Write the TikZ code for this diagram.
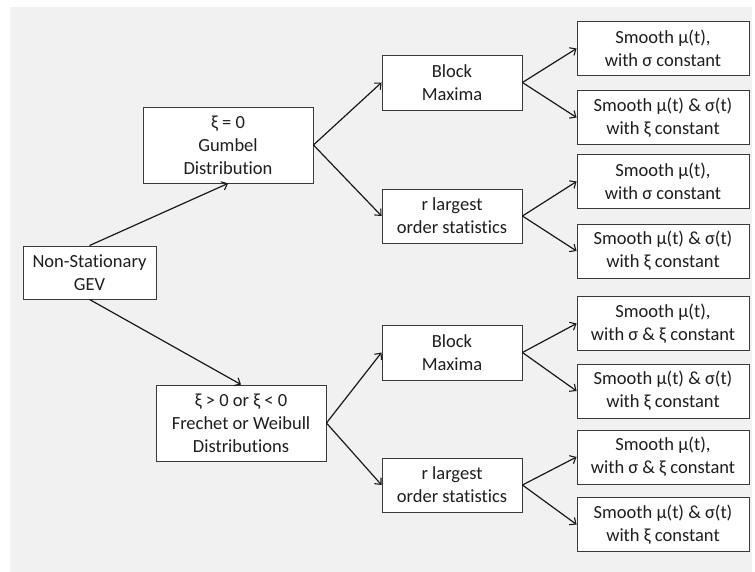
\documentclass[tikz,border=0pt]{standalone}
\usepackage{fontspec}
\setmainfont{Carlito}[Ligatures={NoCommon}]
\usetikzlibrary{arrows.meta}
\definecolor{bgray}{HTML}{F1F1F1}
\definecolor{bordc}{HTML}{3A3A3A}
\definecolor{txtc}{HTML}{1E1E1E}
\tikzset{
  box/.style={draw=bordc, line width=0.9pt, fill=white, align=center, inner sep=0pt,
    font=\fontsize{18.5}{23}\selectfont, text=txtc},
  conn/.style={line width=1.2pt, draw=black!90, -{Straight Barb[length=5pt,width=9pt,line width=1.1pt]}}
}
\begin{document}
\begin{tikzpicture}[x=1pt,y=-1pt]
\useasboundingbox (0,0) rectangle (755,572);
\fill[bgray] (10,7) rectangle (752,572);
% left
\node[box, minimum width=133pt, minimum height=53pt] (gev) at (89.5,272.5) {Non-Stationary\\GEV};
\node[box, minimum width=170pt, minimum height=76pt] (gum) at (228,145) {ξ = 0\\Gumbel\\Distribution};
\node[box, minimum width=170pt, minimum height=76pt] (fre) at (241,423) {ξ > 0 or ξ < 0\\Frechet or Weibull\\Distributions};
% middle
\node[box, minimum width=140pt, minimum height=55pt] (bm1) at (452,82.5) {Block\\Maxima};
\node[box, minimum width=140pt, minimum height=54pt] (rl1) at (452,216) {r largest\\order statistics};
\node[box, minimum width=140pt, minimum height=55pt] (bm2) at (452,352.5) {Block\\Maxima};
\node[box, minimum width=140pt, minimum height=54pt] (rl2) at (452,485) {r largest\\order statistics};
% right
\tikzset{rbox/.style={box, minimum width=172pt, minimum height=54pt}}
\node[rbox] (r1) at (663,48.5) {Smooth μ(t),\\with σ constant};
\node[rbox] (r2) at (663,117.5) {Smooth μ(t) \& σ(t)\\with ξ constant};
\node[rbox] (r3) at (663,181.5) {Smooth μ(t),\\with σ constant};
\node[rbox] (r4) at (663,251) {Smooth μ(t) \& σ(t)\\with ξ constant};
\node[rbox] (r5) at (663,323.5) {Smooth μ(t),\\with σ \& ξ constant};
\node[rbox] (r6) at (663,391) {Smooth μ(t) \& σ(t)\\with ξ constant};
\node[rbox] (r7) at (663,457) {Smooth μ(t),\\with σ \& ξ constant};
\node[rbox] (r8) at (663,524.5) {Smooth μ(t) \& σ(t)\\with ξ constant};
% connectors
\draw[conn] (gev.north) -- (gum.south);
\draw[conn] (gev.south) -- (fre.north);
\draw[conn] (gum.east) -- (bm1.west);
\draw[conn] (gum.east) -- (rl1.west);
\draw[conn] (fre.east) -- (bm2.west);
\draw[conn] (fre.east) -- (rl2.west);
\draw[conn] (bm1.east) -- (r1.west);
\draw[conn] (bm1.east) -- (r2.west);
\draw[conn] (rl1.east) -- (r3.west);
\draw[conn] (rl1.east) -- (r4.west);
\draw[conn] (bm2.east) -- (r5.west);
\draw[conn] (bm2.east) -- (r6.west);
\draw[conn] (rl2.east) -- (r7.west);
\draw[conn] (rl2.east) -- (r8.west);
\end{tikzpicture}
\end{document}
